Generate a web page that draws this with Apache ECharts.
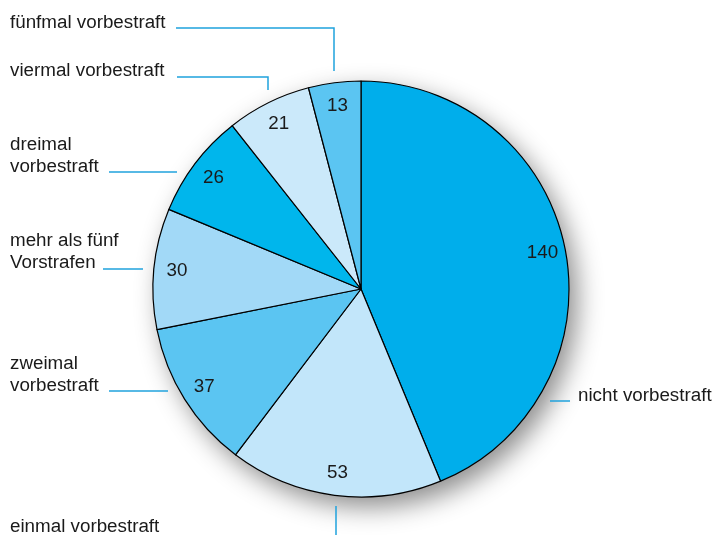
<!DOCTYPE html>
<html><head><meta charset="utf-8">
<script src="https://cdn.jsdelivr.net/npm/echarts@6/dist/echarts.min.js"></script>
<style>html,body{margin:0;padding:0;background:#fff}#c{width:716px;height:535px}</style>
</head><body><div id="c"></div>
<script>
const categories = ['nicht vorbestraft','einmal vorbestraft','zweimal\nvorbestraft','mehr als fünf\nVorstrafen','dreimal\nvorbestraft','viermal vorbestraft','fünfmal vorbestraft'];
const values = [140, 53, 37, 30, 26, 21, 13];
const colors = ['#00AEEB','#C2E6FA','#5BC5F2','#A2D9F7','#00B6EC','#CBE9FA','#5BC5F2'];

// label placement (layout only)
const labelPos = [
  {x:578, y:396, pts:[[550,401],[570,401],[570,401]]},
  {x:10, y:527, pts:[[336,506],[336,535],[336,535]]},
  {x:10, y:375, pts:[[109,391],[168,391],[168,391]]},
  {x:10, y:252, pts:[[103,269],[143,269],[143,269]]},
  {x:10, y:156, pts:[[109,172],[177,172],[177,172]]},
  {x:10, y:71, pts:[[177,77],[268,77],[268,90]]},
  {x:10, y:23, pts:[[176,28],[334,28],[334,71]]}
];

const total = values.reduce((a,b)=>a+b,0);
const data = categories.map((c,i)=>({name:c, value:values[i], itemStyle:{color:colors[i]}}));
const center = [361, 289];
const R = 208;
const font = 'Liberation Sans, Arial, Helvetica, sans-serif';

const chart = echarts.init(document.getElementById('c'));
chart.setOption({
  animation:false,
  series:[
    {
      type:'pie', center:center, radius:R, silent:true, z:1,
      data:[{value:total, name:'bg'}],
      label:{show:false}, labelLine:{show:false},
      itemStyle:{color:'#ffffff', shadowBlur:26, shadowOffsetX:8, shadowOffsetY:10, shadowColor:'rgba(0,0,0,0.45)'}
    },
    {
      type:'pie', center:center, radius:R, startAngle:90, clockwise:true, z:2,
      avoidLabelOverlap:false, data:data,
      itemStyle:{borderColor:'#000', borderWidth:1.2},
      label:{show:true, formatter:'{b}', color:'#1a1a1a', fontSize:18.8, lineHeight:22, fontFamily:font, align:'left'},
      labelLine:{show:true, lineStyle:{color:'#1FA2DD', width:1.5}},
      labelLayout:function(p){
        const lp = labelPos[p.dataIndex];
        return {x:lp.x, y:lp.y, align:'left', verticalAlign:'middle', labelLinePoints:lp.pts};
      },
      emphasis:{disabled:true}
    },
    {
      type:'pie', center:center, radius:[R*0.75, R], startAngle:90, clockwise:true, z:3, silent:true,
      data:categories.map((c,i)=>({name:c, value:values[i]})),
      itemStyle:{color:'rgba(0,0,0,0)', borderWidth:0},
      label:{show:true, position:'inside', formatter:'{c}', color:'#1a1a1a', fontSize:18.8, fontFamily:font},
      labelLine:{show:false},
      emphasis:{disabled:true}
    }
  ]
});
</script></body></html>
